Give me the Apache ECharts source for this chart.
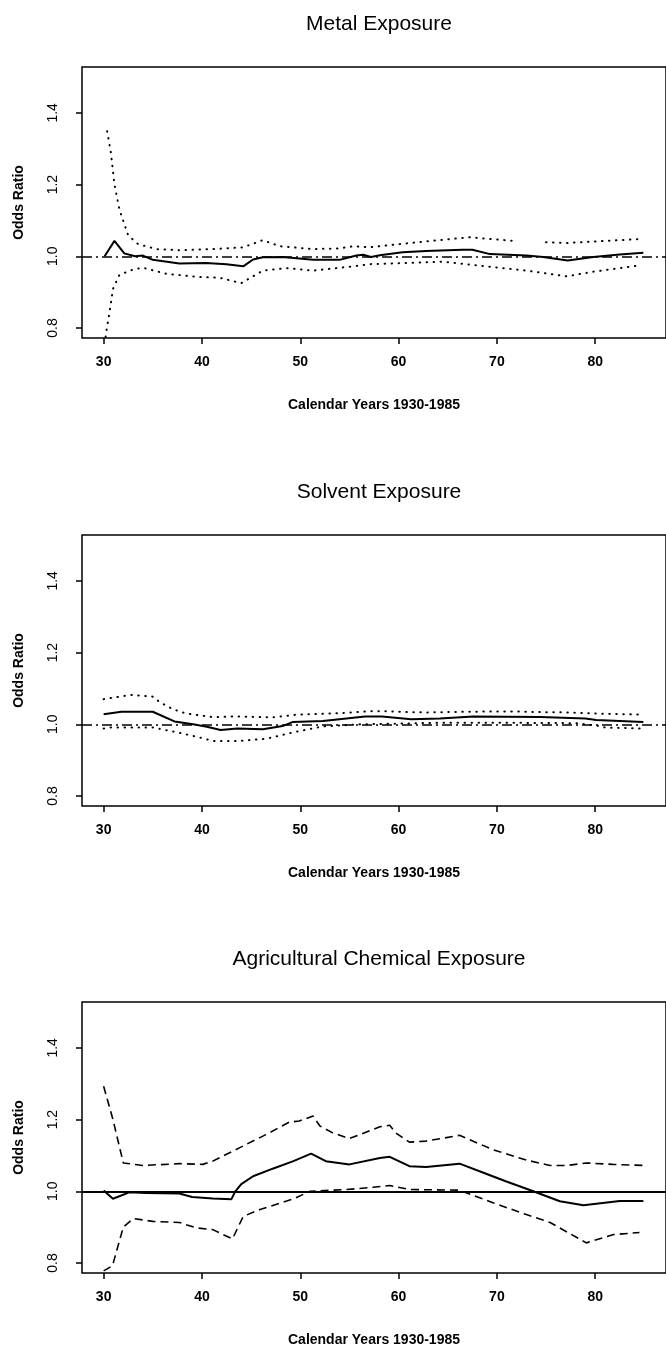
<!DOCTYPE html>
<html>
<head>
<meta charset="utf-8">
<script src="https://cdn.jsdelivr.net/npm/echarts@6/dist/echarts.min.js"></script>
<style>
  html, body { margin: 0; padding: 0; background: #fff; }
  #chart { width: 666px; height: 1349px; }
</style>
</head>
<body>
<div id="chart"></div>
<script>
// 面板标题
const panelTitles = ['Metal Exposure', 'Solvent Exposure', 'Agricultural Chemical Exposure'];
const xTicks = [30, 40, 50, 60, 70, 80];
const yTicks = [0.8, 1.0, 1.2, 1.4];
const xRange = [27.8, 87.2];
const yRange = [0.772, 1.528];

// 金属暴露: [年份, 比值比]
const metalEstimate = [[30.1,1.000],[31.1,1.043],[32.1,1.008],[33.2,1.000],[34.0,1.002],[35.0,0.990],[37.7,0.980],[40.4,0.981],[42.5,0.978],[44.2,0.972],[45.2,0.991],[46.2,0.997],[48.2,0.998],[51.3,0.990],[54.0,0.990],[55.7,1.002],[56.4,1.004],[57.2,0.998],[58.1,1.003],[60.4,1.011],[62.8,1.015],[66.5,1.018],[67.5,1.018],[69.3,1.006],[73.0,1.002],[74.7,0.998],[77.2,0.988],[79.8,0.998],[82.5,1.005],[84.9,1.010]];
const metalUpper = [[30.36,1.349],[30.74,1.289],[31.1,1.200],[31.6,1.131],[32.5,1.058],[33.5,1.034],[35.4,1.020],[37.7,1.017],[41.1,1.020],[44.2,1.025],[46.2,1.045],[47.9,1.028],[51.3,1.020],[54.0,1.022],[55.4,1.028],[57.0,1.025],[62.6,1.041],[67.2,1.053],[72.1,1.042],[73.5,null],[75.0,1.039],[77.1,1.037],[84.5,1.048]];
const metalLower = [[30.2,0.775],[30.27,0.790],[30.6,0.844],[30.95,0.909],[31.6,0.948],[33.0,0.963],[34.0,0.968],[36.4,0.951],[39.8,0.942],[41.8,0.940],[44.0,0.925],[46.2,0.960],[48.6,0.967],[51.3,0.960],[55.4,0.972],[57.1,0.978],[64.5,0.985],[68.9,0.972],[73.0,0.960],[77.1,0.944],[79.8,0.957],[84.4,0.974]];

// 溶剂暴露
const solventEstimate = [[30.0,1.028],[31.8,1.035],[35.0,1.035],[37.2,1.008],[39.1,1.000],[40.5,0.993],[41.9,0.984],[43.6,0.988],[46.2,0.986],[48.2,0.995],[49.2,1.006],[52.3,1.009],[56.6,1.022],[58.3,1.022],[61.3,1.014],[64.2,1.016],[67.6,1.022],[74.4,1.020],[79.0,1.016],[80.1,1.012],[84.9,1.006]];
const solventUpper = [[30.0,1.070],[32.8,1.082],[35.0,1.077],[35.7,1.062],[37.05,1.042],[38.4,1.030],[41.1,1.020],[43.6,1.022],[47.1,1.019],[49.7,1.027],[54.0,1.031],[57.5,1.037],[62.6,1.033],[67.0,1.035],[71.3,1.036],[74.4,1.034],[77.4,1.033],[79.9,1.030],[84.6,1.027]];
const solventLower = [[30.0,0.988],[30.6,0.991],[35.0,0.991],[37.4,0.978],[39.8,0.963],[41.2,0.953],[43.6,0.953],[46.6,0.960],[49.2,0.977],[52.3,0.994],[56.2,1.000],[64.0,1.004],[72.0,1.004],[78.0,1.003],[80.5,0.995],[81.0,0.991],[84.8,0.988]];

// 农药暴露
const agriEstimate = [[30.0,1.002],[30.95,0.979],[32.6,0.997],[34.3,0.995],[37.7,0.994],[39.0,0.984],[41.1,0.980],[43.0,0.978],[43.4,1.000],[44.0,1.020],[45.2,1.042],[47.2,1.063],[49.3,1.084],[51.1,1.105],[52.6,1.084],[55.0,1.075],[58.1,1.093],[59.1,1.096],[61.1,1.070],[62.8,1.068],[66.2,1.077],[68.9,1.049],[70.9,1.028],[73.7,1.000],[76.4,0.972],[78.8,0.961],[82.5,0.973],[84.9,0.973]];
const agriUpper = [[30.0,1.293],[30.95,1.200],[32.0,1.079],[34.0,1.072],[37.7,1.077],[40.1,1.075],[41.1,1.084],[43.8,1.121],[46.5,1.158],[48.9,1.193],[49.9,1.196],[51.3,1.210],[52.0,1.182],[53.3,1.163],[55.0,1.147],[58.1,1.180],[59.1,1.184],[59.7,1.163],[61.1,1.137],[62.8,1.140],[66.2,1.156],[69.6,1.116],[73.0,1.087],[75.4,1.072],[77.1,1.072],[79.1,1.079],[81.8,1.075],[84.9,1.072]];
const agriLower = [[30.0,0.778],[30.9,0.792],[32.0,0.900],[33.0,0.924],[35.0,0.916],[37.7,0.913],[39.4,0.898],[41.1,0.893],[43.1,0.867],[44.2,0.930],[45.9,0.949],[49.3,0.979],[51.0,1.000],[54.7,1.005],[57.4,1.011],[59.1,1.016],[61.1,1.005],[66.2,1.003],[69.6,0.968],[73.0,0.935],[75.4,0.913],[79.1,0.856],[81.8,0.879],[84.5,0.885]];

window.addEventListener('DOMContentLoaded', () => {
    const FONT = 'Liberation Sans';
    const gridTops = [67, 535, 1002];
    const gridH = 271;
    const dotted = { type: [0.5, 6.5], width: 2, cap: 'round', color: '#000' };
    const dashed = { type: [8, 5], width: 1.6, color: '#000' };
    const solid = { type: 'solid', width: 2, color: '#000' };
    const dashDot = { type: [10, 4, 2, 4], width: 1.5, color: '#000' };

    const panels = [
        { est: metalEstimate, up: metalUpper, lo: metalLower, band: dotted, ref: dashDot },
        { est: solventEstimate, up: solventUpper, lo: solventLower, band: dotted, ref: dashDot },
        { est: agriEstimate, up: agriUpper, lo: agriLower, band: dashed, ref: solid }
    ];

    const grid = [], xAxis = [], yAxis = [], series = [], title = [];
    panels.forEach((p, i) => {
        grid.push({ left: 82, width: 584, top: gridTops[i], height: gridH,
            show: true, borderColor: '#000', borderWidth: 1.5, backgroundColor: 'transparent' });
        title.push({ text: panelTitles[i], left: 374, textAlign: 'center', top: gridTops[i] - 58,
            textStyle: { fontFamily: FONT, fontSize: 21, fontWeight: 'normal', color: '#000' } });
        xAxis.push({
            type: 'value', gridIndex: i, min: xRange[0], max: xRange[1],
            name: 'Calendar Years 1930-1985', nameLocation: 'middle', nameGap: 60,
            nameTextStyle: { fontFamily: FONT, fontSize: 14, fontWeight: 'bold', color: '#000' },
            axisLine: { show: false },
            axisTick: { show: true, length: 6, lineStyle: { color: '#000', width: 1.5 }, customValues: xTicks },
            axisLabel: { customValues: xTicks, margin: 17, fontFamily: FONT, fontSize: 14, fontWeight: 'bold', color: '#000' },
            splitLine: { show: false }
        });
        yAxis.push({
            type: 'value', gridIndex: i, min: yRange[0], max: yRange[1],
            name: 'Odds Ratio', nameLocation: 'middle', nameGap: 56, nameRotate: 90,
            nameTextStyle: { fontFamily: FONT, fontSize: 14, fontWeight: 'bold', color: '#000' },
            axisLine: { show: false },
            axisTick: { show: true, length: 6, lineStyle: { color: '#000', width: 1.5 }, customValues: yTicks },
            axisLabel: { customValues: yTicks, rotate: 90, margin: 22, fontFamily: FONT, fontSize: 14, color: '#000',
                formatter: v => v.toFixed(1) },
            splitLine: { show: false }
        });
        const base = { type: 'line', xAxisIndex: i, yAxisIndex: i, showSymbol: false, symbol: 'none', silent: true };
        series.push(Object.assign({}, base, { data: p.est, lineStyle: solid, z: 4,
            markLine: { symbol: 'none', silent: true, label: { show: false }, lineStyle: p.ref,
                data: [{ yAxis: 1 }] } }));
        series.push(Object.assign({}, base, { data: p.up, lineStyle: p.band, z: 3 }));
        series.push(Object.assign({}, base, { data: p.lo, lineStyle: p.band, z: 3 }));
    });

    const myChart = echarts.init(document.getElementById('chart'), null, { renderer: 'canvas' });
    myChart.setOption({ animation: false, backgroundColor: '#fff', title, grid, xAxis, yAxis, series });
});
</script>
</body>
</html>
